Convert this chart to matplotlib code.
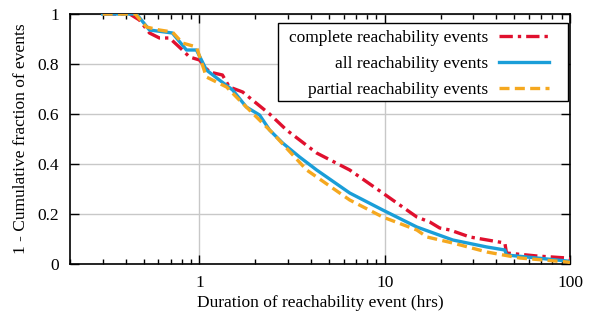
import matplotlib
matplotlib.use("Agg")
import matplotlib.pyplot as plt
from matplotlib.patches import Rectangle

plt.rcParams['font.family'] = ['Liberation Serif', 'DejaVu Serif']

# complete reachability events
x_complete = [0.30, 0.42, 0.474, 0.537, 0.608, 0.689, 0.809, 0.883, 1.00, 1.13, 1.33, 1.45, 1.71, 1.93,
              2.39, 2.95, 4.29, 6.47, 9.75, 14.9, 17.5, 19.8, 22.5, 28.8, 44.5, 45.4, 66.4, 96.3, 100.0]
y_complete = [1.00, 1.00, 0.976, 0.924, 0.904, 0.904, 0.856, 0.828, 0.816, 0.768, 0.756, 0.708, 0.688, 0.656,
              0.600, 0.536, 0.444, 0.376, 0.284, 0.188, 0.168, 0.144, 0.136, 0.108, 0.084, 0.044, 0.032, 0.024, 0.020]

# all reachability events
x_all = [0.30, 0.457, 0.537, 0.714, 0.85, 0.963, 1.09, 1.28, 1.51, 1.79, 2.11,
         2.39, 2.81, 3.47, 4.29, 6.47, 9.75, 14.9, 23.3, 35.6, 44.5, 45.4, 66.4, 96.3, 100.0]
y_all = [1.00, 1.00, 0.936, 0.924, 0.856, 0.856, 0.776, 0.736, 0.696, 0.628, 0.596,
         0.536, 0.484, 0.428, 0.376, 0.284, 0.216, 0.148, 0.096, 0.068, 0.056, 0.036, 0.024, 0.012, 0.010]

# partial reachability events
x_partial = [0.30, 0.45, 0.517, 0.608, 0.714, 0.809, 0.963, 1.09, 1.40, 1.64, 1.93,
             2.48, 3.79, 6.47, 9.75, 14.9, 16.9, 23.3, 35.6, 53.5, 96.3, 100.0]
y_partial = [1.00, 1.00, 0.948, 0.936, 0.928, 0.884, 0.868, 0.748, 0.708, 0.656, 0.604,
             0.524, 0.376, 0.256, 0.188, 0.136, 0.108, 0.084, 0.048, 0.024, 0.008, 0.006]

fig = plt.figure(figsize=(5.9, 3.13), dpi=100)
ax = fig.add_axes([70/590, 1-264/313, 500/590, 250/313])

ax.plot(x_complete, y_complete, color='#e0102e', lw=2.4, dashes=(4, 1.5, 1, 1.5),
        label='complete reachability events', zorder=3)
ax.plot(x_all, y_all, color='#1a9ed8', lw=2.4, label='all reachability events', zorder=4)
ax.plot(x_partial, y_partial, color='#f5a81f', lw=2.4, dashes=(3, 1.6),
        label='partial reachability events', zorder=5)

ax.set_xscale('log')
ax.set_xlim(0.2, 100)
ax.set_ylim(0, 1)
ax.set_xticks([1, 10, 100])
ax.set_xticklabels(['1', '10', '100'])
ax.set_yticks([0, 0.2, 0.4, 0.6, 0.8, 1])
ax.set_yticklabels(['0', '0.2', '0.4', '0.6', '0.8', '1'])
ax.grid(True, which='major', color='#c8c8c8', lw=1)
ax.set_axisbelow(True)
ax.tick_params(which='both', direction='in', top=True, right=True, labelsize=12.5, pad=8)
ax.tick_params(which='major', length=6.5, width=1)
ax.tick_params(which='minor', length=3.5, width=1)
for s in ax.spines.values():
    s.set_linewidth(1.2)

ax.set_xlabel('Duration of reachability event (hrs)', fontsize=12.5, labelpad=3)
ax.set_ylabel('1 - Cumulative fraction of events', fontsize=12.5, labelpad=6)

# legend frame
frame = Rectangle((0.416, 0.652), 0.58, 0.312, transform=ax.transAxes,
                  facecolor='white', edgecolor='black', lw=1.0, zorder=10)
ax.add_patch(frame)

leg = ax.legend(loc='upper right', fontsize=12.5, markerfirst=False, frameon=False,
                handlelength=2.9, handletextpad=0.6,
                borderpad=0, labelspacing=0.56, borderaxespad=0,
                bbox_to_anchor=(0.958, 0.936))
leg.set_zorder(11)
for t in leg.get_texts():
    t.set_ha('right')
leg._legend_box.align = 'right'

fig.savefig('out.png', dpi=100)
